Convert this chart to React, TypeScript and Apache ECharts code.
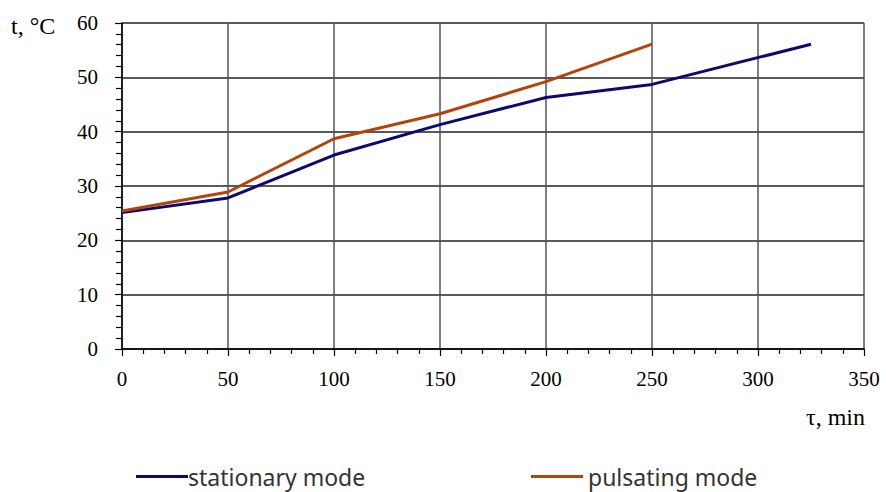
import React, { useEffect, useRef } from "react";
import * as echarts from "echarts";

const timeStationary = [0, 50, 100, 150, 200, 250, 325];
const tempStationary = [25.1, 27.8, 35.7, 41.3, 46.3, 48.7, 56.1];
const timePulsating = [0, 50, 100, 150, 200, 250];
const tempPulsating = [25.4, 28.9, 38.7, 43.3, 49.2, 56.1];
const seriesNames = ["stationary mode", "pulsating mode"];
const yAxisTitle = "t, °C";
const xAxisTitle = "τ, min";

export default function App() {
  const ref = useRef<HTMLDivElement>(null);
  useEffect(() => {
    if (!ref.current) return;
    const chart = echarts.init(ref.current, null, { renderer: "svg" });
    const serif = "Liberation Serif";
    const sans = "Noto Sans";
    chart.setOption({
      animation: false,
      backgroundColor: "#ffffff",
      grid: { left: 122, right: 22, top: 23, bottom: 143, containLabel: false },
      legend: [
        {
          data: [seriesNames[0]],
          left: 136,
          top: 465,
          padding: 0,
          itemWidth: 52,
          itemHeight: 3,
          icon: "rect",
          itemGap: 0,
          textStyle: { fontFamily: sans, fontSize: 23, lineHeight: 22, color: "#333", padding: [0, 0, 0, -5] },
        },
        {
          data: [seriesNames[1]],
          left: 531,
          top: 465,
          padding: 0,
          itemWidth: 52,
          itemHeight: 3,
          icon: "rect",
          itemGap: 0,
          textStyle: { fontFamily: sans, fontSize: 23, lineHeight: 22, color: "#333", padding: [0, 0, 0, 0] },
        },
      ],
      xAxis: {
        type: "value",
        min: 0,
        max: 350,
        interval: 50,
        axisLine: { show: true, lineStyle: { color: "#000", width: 1.5 } },
        axisTick: { show: true, length: 7, lineStyle: { color: "#000", width: 1.2 } },
        minorTick: { show: true, splitNumber: 5, length: 5, lineStyle: { color: "#000", width: 1.2 } },
        splitLine: { show: true, lineStyle: { color: "#555", width: 1.5 } },
        axisLabel: { fontFamily: serif, fontSize: 21, color: "#000", margin: 19 },
      },
      yAxis: {
        type: "value",
        min: 0,
        max: 60,
        interval: 10,
        axisLine: { show: true, lineStyle: { color: "#000", width: 1.5 } },
        axisTick: { show: true, length: 7, lineStyle: { color: "#000", width: 1.2 } },
        minorTick: { show: true, splitNumber: 5, length: 6, lineStyle: { color: "#000", width: 1.2 } },
        splitLine: { show: true, lineStyle: { color: "#222", width: 1.5 } },
        axisLabel: { fontFamily: serif, fontSize: 21, color: "#000", margin: 24 },
      },
      graphic: [
        {
          type: "text",
          left: 11,
          top: 14,
          style: { text: yAxisTitle, fontFamily: serif, fontSize: 24, fill: "#000" },
        },
        {
          type: "text",
          right: 21,
          top: 405,
          style: { text: xAxisTitle, fontFamily: serif, fontSize: 24, fill: "#000" },
        },
      ],
      series: [
        {
          name: seriesNames[0],
          type: "line",
          data: timeStationary.map((t, i) => [t, tempStationary[i]]),
          showSymbol: false,
          symbol: "none",
          lineStyle: { color: "#0b0b6e", width: 3 },
          itemStyle: { color: "#0b0b6e" },
        },
        {
          name: seriesNames[1],
          type: "line",
          data: timePulsating.map((t, i) => [t, tempPulsating[i]]),
          showSymbol: false,
          symbol: "none",
          lineStyle: { color: "#b4430c", width: 3 },
          itemStyle: { color: "#b4430c" },
        },
      ],
    });
    return () => chart.dispose();
  }, []);
  return <div ref={ref} style={{ width: 886, height: 492, position: "absolute", left: 0, top: 0 }} />;
}
